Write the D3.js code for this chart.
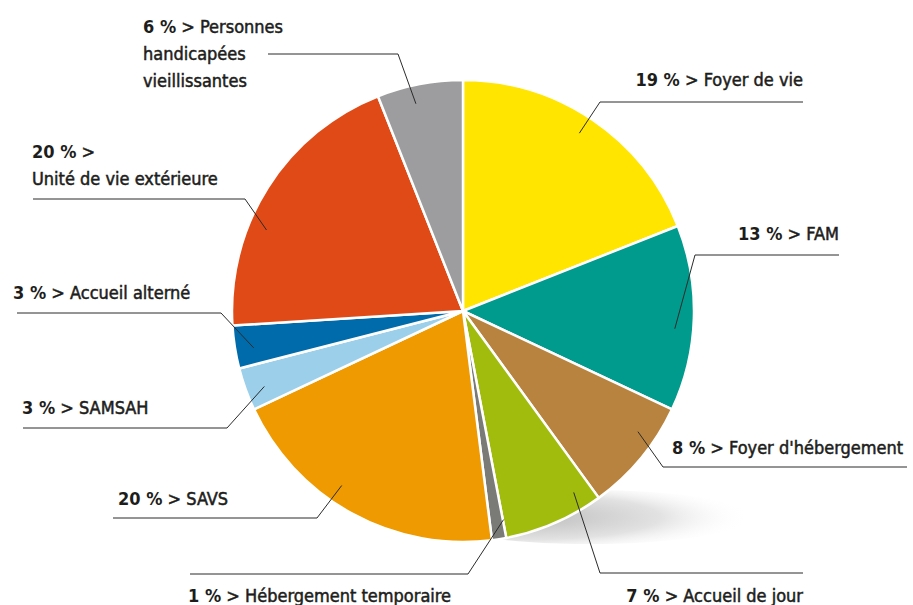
<!DOCTYPE html>
<html>
<head>
<meta charset="utf-8">
<script src="https://cdn.jsdelivr.net/npm/d3@7"></script>
<style>
  body { margin: 0; background: #fff; }
  text { font-family: "Liberation Sans Narrow", "DejaVu Sans Condensed", "Roboto", sans-serif; font-stretch: condensed; fill: #1d1d1b; }
</style>
</head>
<body>
<div id="chart"></div>
<script>
// slices, clockwise from 12 o'clock
var categories = ["Foyer de vie", "FAM", "Foyer d'hébergement", "Accueil de jour",
  "Hébergement temporaire", "SAVS", "SAMSAH", "Accueil alterné",
  "\nUnité de vie extérieure", "Personnes\nhandicapées\nvieillissantes"];
var values = [19, 13, 8, 7, 1, 20, 3, 3, 20, 6];
var colors = ["#ffe500", "#009b8c", "#b8833e", "#a2bc0e", "#7a7a77",
  "#ee9a00", "#9bcfea", "#006bab", "#e04a17", "#9d9d9f"];

// label placement: text anchor x, baseline y, underline y + span, angle tweak (deg)
var layout = [
  {tx: 803, ty: 86,  anchor: "end",   ly: 102, x0: 600, x1: 803, da: -1},
  {tx: 839, ty: 240, anchor: "end",   ly: 255, x0: 695, x1: 839, da: 3},
  {tx: 672, ty: 454, anchor: "start", ly: 467, x0: 663, x1: 907, da: -5},
  {tx: 803, ty: 602, anchor: "end",   ly: 573, x0: 600, x1: 803, da: -8},
  {tx: 188, ty: 602, anchor: "start", ly: 574, x0: 190, x1: 468, da: -2},
  {tx: 118, ty: 505, anchor: "start", ly: 518, x0: 113, x1: 317, da: 6},
  {tx: 22,  ty: 414, anchor: "start", ly: 428, x0: 23,  x1: 227, da: -1},
  {tx: 13,  ty: 299, anchor: "start", ly: 313, x0: 17,  x1: 221, da: -1},
  {tx: 32,  ty: 158, anchor: "start", ly: 199, x0: 33,  x1: 245, da: -10},
  {tx: 143, ty: 33,  anchor: "start", ly: 54,  x0: 268, x1: 398, da: -2}
];

var width = 913, height = 605;
var cx = 463, cy = 311, radius = 231;

var svg = d3.select("#chart").append("svg")
    .attr("width", width)
    .attr("height", height);

// soft shadow under the pie
var defs = svg.append("defs");
var grad = defs.append("radialGradient")
    .attr("id", "shadow")
    .attr("cx", "0.3").attr("cy", "0.5").attr("r", "0.7");
grad.append("stop").attr("offset", "0").attr("stop-color", "#bdbdbd");
grad.append("stop").attr("offset", "0.6").attr("stop-color", "#e2e2e2");
grad.append("stop").attr("offset", "1").attr("stop-color", "#fff").attr("stop-opacity", 0);

svg.append("ellipse")
    .attr("cx", 590).attr("cy", 517)
    .attr("rx", 160).attr("ry", 27)
    .attr("fill", "url(#shadow)");

var g = svg.append("g").attr("transform", "translate(" + cx + "," + cy + ")");

var pie = d3.pie().sort(null).value(function(d) { return d; });
var arcs = pie(values);

var arc = d3.arc().innerRadius(0).outerRadius(radius);

g.selectAll("path.slice")
    .data(arcs)
  .enter().append("path")
    .attr("class", "slice")
    .attr("d", arc)
    .attr("fill", function(d, i) { return colors[i]; })
    .attr("stroke", "#fff")
    .attr("stroke-width", 2.5)
    .attr("stroke-linejoin", "round");

// leader lines: from a point inside the slice to the label underline
var leaders = svg.append("g");
arcs.forEach(function(d, i) {
  var L = layout[i];
  var a = (d.startAngle + d.endAngle) / 2 + L.da * Math.PI / 180;
  var r = radius * 0.92;
  var px = cx + r * Math.sin(a), py = cy - r * Math.cos(a);
  var elbow = (px > cx) ? L.x0 : L.x1;
  if (i === 4) elbow = L.x1;
  leaders.append("polyline")
      .attr("points", [[px, py], [elbow, L.ly], [elbow === L.x0 ? L.x1 : L.x0, L.ly]].join(" "))
      .attr("fill", "none")
      .attr("stroke", "#2b2b2b")
      .attr("stroke-width", 1);
});

// labels
var labels = svg.append("g");
categories.forEach(function(name, i) {
  var L = layout[i];
  var lines = name.split("\n");
  var t = labels.append("text")
      .attr("x", L.tx).attr("y", L.ty)
      .attr("text-anchor", L.anchor)
      .style("font-size", "18px");
  t.append("tspan").attr("font-weight", 700).text(values[i] + " %");
  t.append("tspan").attr("font-weight", 400)
      .attr("stroke", "#1d1d1b").attr("stroke-width", 0.5)
      .text(" > " + lines[0]);
  lines.slice(1).forEach(function(s) {
    t.append("tspan")
        .attr("x", L.tx).attr("dy", 27)
        .attr("font-weight", 400)
        .attr("stroke", "#1d1d1b").attr("stroke-width", 0.5)
        .text(s);
  });
});
</script>
</body>
</html>
